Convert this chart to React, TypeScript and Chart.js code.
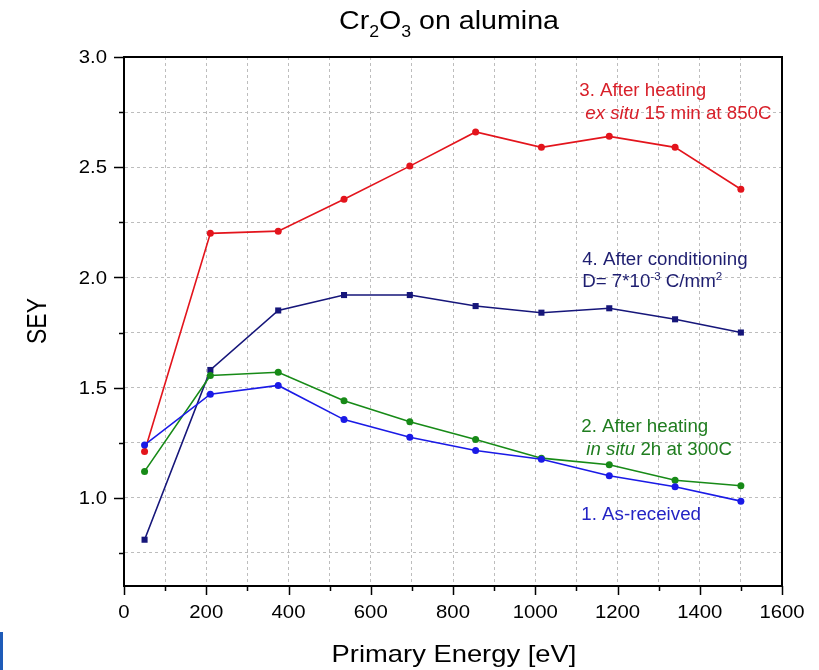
import { useEffect, useRef } from 'react';
import { Chart, registerables } from 'chart.js';

Chart.register(...registerables);

// Primary electron energy (eV) at which the SEY was measured
const energies = [50, 210, 375, 535, 695, 855, 1015, 1180, 1340, 1500];

// Secondary electron yield per sample state
const seyAsReceived = [1.24, 1.47, 1.51, 1.355, 1.275, 1.215, 1.175, 1.1, 1.05, 0.985];
const seyInSitu = [1.12, 1.555, 1.57, 1.44, 1.345, 1.265, 1.18, 1.15, 1.08, 1.055];
const seyExSitu = [1.21, 2.2, 2.21, 2.355, 2.505, 2.66, 2.59, 2.64, 2.59, 2.4];
const seyConditioned = [0.81, 1.58, 1.85, 1.92, 1.92, 1.87, 1.84, 1.86, 1.81, 1.75];

// Axis ticks: every entry gets a grid line / tick mark, the label lists get text
const xTicks = [0, 100, 200, 300, 400, 500, 600, 700, 800, 900, 1000, 1100, 1200, 1300, 1400, 1500, 1600];
const xLabelTicks = [0, 200, 400, 600, 800, 1000, 1200, 1400, 1600];
const yTicks = [0.75, 1.0, 1.25, 1.5, 1.75, 2.0, 2.25, 2.5, 2.75, 3.0];
const yLabelTicks = [1.0, 1.5, 2.0, 2.5, 3.0];

const RED = '#e3141c';
const GREEN = '#178a17';
const BLUE = '#1a1ae6';
const NAVY = '#16167a';

const FONT = '"Liberation Sans", Arial, Helvetica, sans-serif';

type Run = { text: string; italic?: boolean; sup?: boolean; sub?: boolean };

// Curve labels, anchored in data coordinates (first line baseline)
const curveLabels: { color: string; x: number; y: number; lines: { dx: number; runs: Run[] }[] }[] = [
  {
    color: '#d8202a',
    x: 1107,
    y: 2.823,
    lines: [
      { dx: 0, runs: [{ text: '3. After heating' }] },
      { dx: 6, runs: [{ text: 'ex situ', italic: true }, { text: ' 15 min at 850C' }] },
    ],
  },
  {
    color: '#1e1e70',
    x: 1114,
    y: 2.057,
    lines: [
      { dx: 0, runs: [{ text: '4. After conditioning' }] },
      { dx: 0, runs: [{ text: 'D= 7*10' }, { text: '-3', sup: true }, { text: ' C/mm' }, { text: '2', sup: true }] },
    ],
  },
  {
    color: '#1f7d1f',
    x: 1112,
    y: 1.297,
    lines: [
      { dx: 0, runs: [{ text: '2. After heating' }] },
      { dx: 5, runs: [{ text: 'in situ', italic: true }, { text: ' 2h at 300C' }] },
    ],
  },
  {
    color: '#2424c4',
    x: 1112,
    y: 0.901,
    lines: [{ dx: 0, runs: [{ text: '1. As-received' }] }],
  },
];

function runFont(r: Run, size: number) {
  const fs = r.sup || r.sub ? size * 0.62 : size;
  return `${r.italic ? 'italic ' : ''}${fs}px ${FONT}`;
}

function runsWidth(ctx: CanvasRenderingContext2D, runs: Run[], size: number) {
  let w = 0;
  for (const r of runs) {
    ctx.font = runFont(r, size);
    w += ctx.measureText(r.text).width;
  }
  return w;
}

// Draws a run of text (with italics / sub / superscripts) with a horizontal stretch
function drawRuns(
  ctx: CanvasRenderingContext2D,
  runs: Run[],
  x: number,
  y: number,
  size: number,
  sx: number,
  color: string,
  align: 'left' | 'center' = 'left'
) {
  ctx.save();
  ctx.translate(x, y);
  ctx.scale(sx, 1);
  ctx.fillStyle = color;
  ctx.textBaseline = 'alphabetic';
  ctx.textAlign = 'left';
  let cx = align === 'center' ? -runsWidth(ctx, runs, size) / 2 : 0;
  for (const r of runs) {
    ctx.font = runFont(r, size);
    const dy = r.sup ? -size * 0.4 : r.sub ? size * 0.32 : 0;
    ctx.fillText(r.text, cx, dy);
    cx += ctx.measureText(r.text).width;
  }
  ctx.restore();
}

const decorations = {
  id: 'decorations',
  afterDraw(chart: any) {
    const ctx: CanvasRenderingContext2D = chart.ctx;
    const { left, right, top, bottom } = chart.chartArea;
    const xs = chart.scales.x;
    const ys = chart.scales.y;

    ctx.save();
    // frame: top and right edges
    ctx.strokeStyle = '#000';
    ctx.lineWidth = 2;
    ctx.beginPath();
    ctx.moveTo(left, top);
    ctx.lineTo(right, top);
    ctx.lineTo(right, bottom);
    ctx.stroke();

    // tick marks
    ctx.lineWidth = 1.5;
    ctx.beginPath();
    for (const v of yTicks) {
      const py = Math.round(ys.getPixelForValue(v)) + 0.5;
      const len = yLabelTicks.includes(v) ? 10 : 5;
      ctx.moveTo(left - len, py);
      ctx.lineTo(left, py);
    }
    for (const v of xTicks) {
      const px = Math.round(xs.getPixelForValue(v)) + 0.5;
      const len = xLabelTicks.includes(v) ? 9 : 5;
      ctx.moveTo(px, bottom);
      ctx.lineTo(px, bottom + len);
    }
    ctx.stroke();

    // tick labels
    const tickSize = 19;
    const tickSx = 1.07;
    ctx.fillStyle = '#000';
    ctx.font = `${tickSize}px ${FONT}`;
    for (const v of yLabelTicks) {
      const py = ys.getPixelForValue(v);
      ctx.save();
      ctx.translate(left - 17, py + 1);
      ctx.scale(tickSx, 1);
      ctx.textAlign = 'right';
      ctx.textBaseline = 'middle';
      ctx.fillText(v.toFixed(1), 0, 0);
      ctx.restore();
    }
    for (const v of xLabelTicks) {
      const px = xs.getPixelForValue(v);
      ctx.save();
      ctx.translate(px, bottom + 32);
      ctx.scale(tickSx, 1);
      ctx.textAlign = 'center';
      ctx.textBaseline = 'alphabetic';
      ctx.fillText(String(v), 0, 0);
      ctx.restore();
    }

    // title
    drawRuns(
      ctx,
      [{ text: 'Cr' }, { text: '2', sub: true }, { text: 'O' }, { text: '3', sub: true }, { text: ' on alumina' }],
      449,
      29,
      26,
      1.1,
      '#000',
      'center'
    );

    // axis titles
    drawRuns(ctx, [{ text: 'Primary Energy [eV]' }], 454, 662, 24, 1.14, '#000', 'center');
    ctx.save();
    ctx.translate(46, 321);
    ctx.rotate(-Math.PI / 2);
    ctx.scale(1, 1.2);
    ctx.font = `23px ${FONT}`;
    ctx.fillStyle = '#000';
    ctx.textAlign = 'center';
    ctx.textBaseline = 'alphabetic';
    ctx.fillText('SEY', 0, 0);
    ctx.restore();

    // curve labels
    for (const lab of curveLabels) {
      const px = xs.getPixelForValue(lab.x);
      const py = ys.getPixelForValue(lab.y);
      lab.lines.forEach((ln, i) => {
        drawRuns(ctx, ln.runs, px + ln.dx, py + i * 22.5, 18, 1.04, lab.color);
      });
    }
    ctx.restore();
  },
};

function series(label: string, values: number[], color: string, style: 'circle' | 'rect') {
  return {
    label,
    data: energies.map((e, i) => ({ x: e, y: values[i] })),
    borderColor: color,
    backgroundColor: color,
    borderWidth: 1.6,
    pointStyle: style,
    pointRadius: style === 'rect' ? 4.3 : 3.5,
    pointBorderWidth: 0,
    tension: 0,
  };
}

export default function App() {
  const canvasRef = useRef<HTMLCanvasElement | null>(null);

  useEffect(() => {
    const canvas = canvasRef.current;
    if (!canvas) return;
    const chart = new Chart(canvas, {
      type: 'line',
      data: {
        datasets: [
          series('1. As-received', seyAsReceived, BLUE, 'circle'),
          series('2. After heating in situ 2h at 300C', seyInSitu, GREEN, 'circle'),
          series('3. After heating ex situ 15 min at 850C', seyExSitu, RED, 'circle'),
          series('4. After conditioning', seyConditioned, NAVY, 'rect'),
        ],
      },
      options: {
        animation: false,
        responsive: false,
        devicePixelRatio: 1,
        layout: { padding: { left: 0, top: 57, right: 37, bottom: 0 } },
        plugins: {
          legend: { display: false },
          tooltip: { enabled: false },
          title: { display: false },
        },
        scales: {
          x: {
            type: 'linear',
            min: 0,
            max: 1600,
            afterBuildTicks: (scale: any) => {
              scale.ticks = xTicks.map((v) => ({ value: v }));
            },
            afterFit: (scale: any) => {
              scale.height = 84;
            },
            ticks: { display: false },
            grid: { color: '#bdbdbd', lineWidth: 1, drawTicks: false },
            border: { display: true, color: '#000', width: 2, dash: [3, 3] },
          },
          y: {
            type: 'linear',
            min: 0.6,
            max: 3.0,
            afterBuildTicks: (scale: any) => {
              scale.ticks = yTicks.map((v) => ({ value: v }));
            },
            afterFit: (scale: any) => {
              scale.width = 124;
            },
            ticks: { display: false },
            grid: { color: '#bdbdbd', lineWidth: 1, drawTicks: false },
            border: { display: true, color: '#000', width: 2, dash: [3, 3] },
          },
        },
      },
      plugins: [decorations],
    });
    return () => chart.destroy();
  }, []);

  return (
    <div style={{ position: 'fixed', left: 0, top: 0, width: 819, height: 670, background: '#fff' }}>
      <canvas ref={canvasRef} width={819} height={670} style={{ width: 819, height: 670, display: 'block' }} />
      <div style={{ position: 'absolute', left: 0, top: 632, width: 3, height: 38, background: '#1e5bb8' }} />
    </div>
  );
}
